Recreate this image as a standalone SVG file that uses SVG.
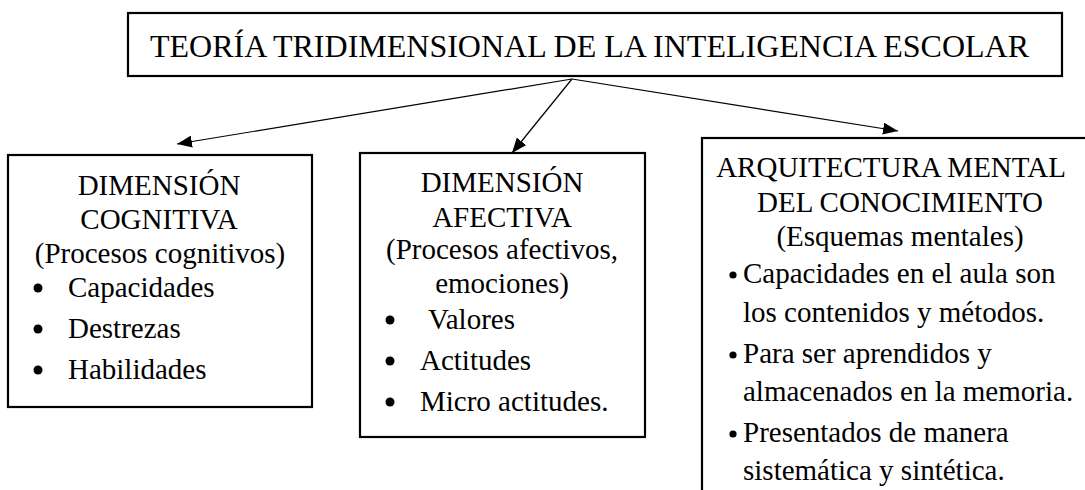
<svg xmlns="http://www.w3.org/2000/svg" width="1085" height="490" viewBox="0 0 1085 490">
<style>
.box{fill:#fff;stroke:#000;stroke-width:2.2}
.t{font-family:"Liberation Serif","Times New Roman",serif;font-size:29px;fill:#000}
.c{text-anchor:middle}
.title{font-family:"Liberation Serif","Times New Roman",serif;font-size:32px;fill:#000}
.con{stroke:#000;stroke-width:1.2;fill:none;marker-end:url(#arr)}
.b{fill:#000}
</style>
<defs>
<marker id="arr" markerUnits="userSpaceOnUse" markerWidth="16" markerHeight="12" refX="15" refY="6" orient="auto">
<path d="M0,0 L15,6 L0,12 z" fill="#000"/>
</marker>
</defs>
<rect width="1085" height="490" fill="#fff"/>
<g id="title">
<rect class="box" x="128" y="13" width="934" height="63"/>
<text class="title" x="150" y="57">TEORÍA TRIDIMENSIONAL DE LA INTELIGENCIA ESCOLAR</text>
</g>
<g id="connectors">
<line class="con" x1="572" y1="79" x2="177" y2="144"/>
<line class="con" x1="572" y1="79" x2="512" y2="153"/>
<line class="con" x1="572" y1="79" x2="898" y2="131"/>
</g>
<g id="cognitiva">
<rect class="box" x="8" y="155" width="304" height="252"/>
<text class="t c" x="159" y="195">DIMENSIÓN</text>
<text class="t c" x="159" y="229">COGNITIVA</text>
<text class="t c" x="160" y="263">(Procesos cognitivos)</text>
<circle class="b" cx="38" cy="288" r="4.5"/>
<text class="t" x="68" y="297">Capacidades</text>
<circle class="b" cx="38" cy="329" r="4.5"/>
<text class="t" x="68" y="338">Destrezas</text>
<circle class="b" cx="38" cy="370" r="4.5"/>
<text class="t" x="68" y="379">Habilidades</text>
</g>
<g id="afectiva">
<rect class="box" x="360" y="153" width="285" height="284"/>
<text class="t c" x="502" y="192">DIMENSIÓN</text>
<text class="t c" x="502" y="227">AFECTIVA</text>
<text class="t c" x="502" y="259">(Procesos afectivos,</text>
<text class="t c" x="502" y="293">emociones)</text>
<circle class="b" cx="390" cy="320" r="4.5"/>
<text class="t" x="428" y="329">Valores</text>
<circle class="b" cx="390" cy="361" r="4.5"/>
<text class="t" x="420" y="370">Actitudes</text>
<circle class="b" cx="390" cy="402" r="4.5"/>
<text class="t" x="420" y="411">Micro actitudes.</text>
</g>
<g id="arquitectura">
<rect class="box" x="702" y="138" width="400" height="370"/>
<text class="t c" x="891" y="177">ARQUITECTURA MENTAL</text>
<text class="t c" x="900" y="212">DEL CONOCIMIENTO</text>
<text class="t c" x="900" y="246">(Esquemas mentales)</text>
<circle class="b" cx="733" cy="275" r="3.6"/>
<text class="t" x="743" y="283">Capacidades en el aula son</text>
<text class="t" x="743" y="322">los contenidos y métodos.</text>
<circle class="b" cx="733" cy="355" r="3.6"/>
<text class="t" x="743" y="363">Para ser aprendidos y</text>
<text class="t" x="743" y="401">almacenados en la memoria.</text>
<circle class="b" cx="733" cy="434" r="3.6"/>
<text class="t" x="743" y="442">Presentados de manera</text>
<text class="t" x="743" y="480">sistemática y sintética.</text>
</g>
</svg>
